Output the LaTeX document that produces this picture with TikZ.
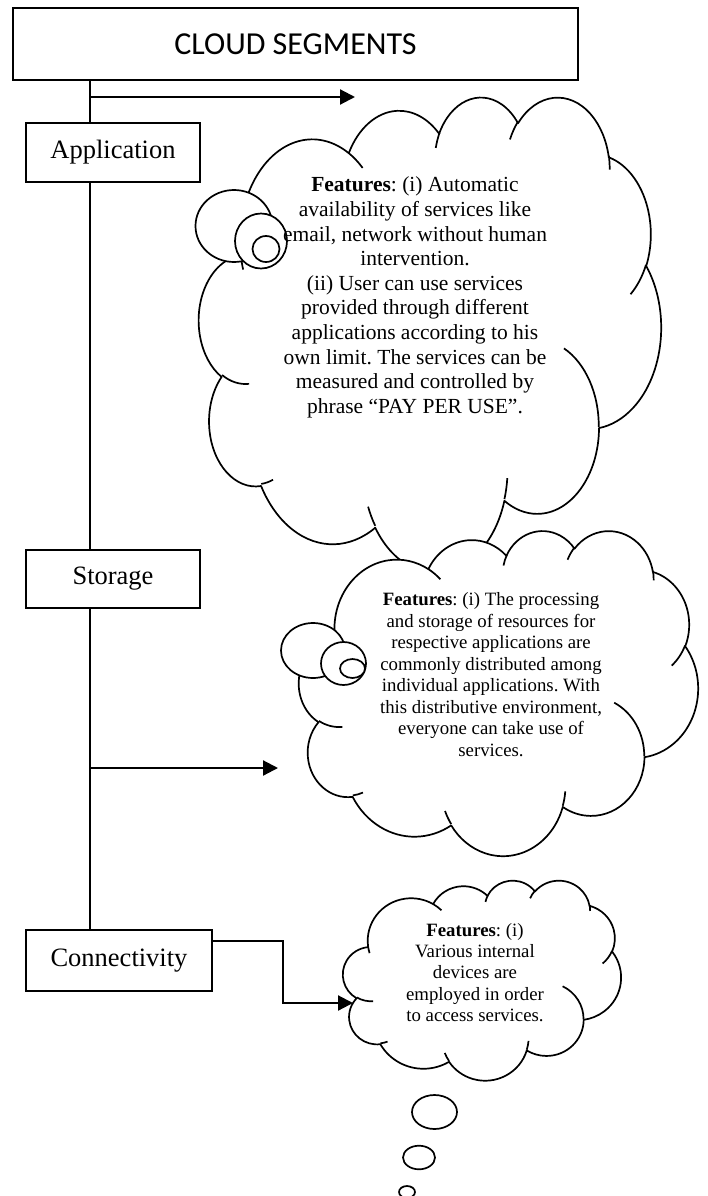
\documentclass[tikz,border=0pt]{standalone}
\usepackage{fontspec}
\setmainfont{Liberation Serif}
\newfontfamily\titlefont{Carlito}
\usetikzlibrary{arrows.meta}
\frenchspacing

% one puff of a callout cloud, radii and angles taken in a 432 x 432 frame
\newcommand{\cloudlobe}[4]{arc[x radius=#1, y radius=#2,
    start angle={atan2((#1)*sin(#3),(#2)*cos(#3))},
    delta angle={mod(atan2((#1)*sin((#3)+(#4)),(#2)*cos((#3)+(#4)))-atan2((#1)*sin(#3),(#2)*cos(#3))+720,360)}]}

% whole cloud outline fitted into the frame x0, y0, width, height
\newcommand{\calloutcloud}[4]{%
    \begin{scope}[shift={(#1,#2)}, xscale=#3/432, yscale=#4/432]
        \draw[cloud_line, fill=white] (39,143.7)
            \cloudlobe{67.53}{91.90}{-190.49}{123.78}
            \cloudlobe{53.33}{72.67}{-144.10}{89.95}
            \cloudlobe{43.65}{59.45}{-145.81}{99.72}
            \cloudlobe{48.57}{65.95}{-130.99}{117.24}
            \cloudlobe{53.33}{72.73}{-78.71}{109.03}
            \cloudlobe{67.75}{92.20}{-46.27}{130.27}
            \cloudlobe{57.85}{78.67}{0.625}{114.03}
            \cloudlobe{67.52}{92.15}{22.45}{115.17}
            \cloudlobe{77.20}{105.43}{66.24}{75.71}
            \cloudlobe{43.60}{59.18}{-274.94}{146.74}
            \cloudlobe{43.45}{59.45}{-246.83}{152.52} -- cycle;
        \draw[cloud_line]
            (46.93,261.77) \cloudlobe{43.45}{59.45}{86.74}{26.43}
            (69.28,348.99) \cloudlobe{43.60}{59.18}{73.61}{11.45}
            (164.78,390.90) \cloudlobe{67.52}{92.15}{137.62}{14.08}
            (288.27,347.51) \cloudlobe{67.52}{92.15}{6.45}{16.00}
            (341.29,229.54) \cloudlobe{57.85}{78.67}{-70.29}{70.92}
            (417.98,153.54) \cloudlobe{53.33}{72.73}{30.32}{27.75}
            (383.24,54.26) \cloudlobe{48.57}{65.95}{-13.74}{14.86}
            (290.78,39.52) \cloudlobe{48.57}{65.95}{-149.18}{18.20}
            (221.41,47.20) \cloudlobe{43.65}{59.45}{-163.49}{17.69}
            (140.00,51.92) \cloudlobe{67.53}{91.90}{-66.71}{12.32}
            (41.27,157.89) \cloudlobe{67.53}{91.90}{157.65}{11.86};
    \end{scope}}

\begin{document}
\begin{tikzpicture}[
        x=1pt, y=-1pt,
        cloud_line/.style={line width=1.7pt, line join=round},
        bubble/.style={draw, line width=1.7pt, fill=white},
        segment_box/.style={
            rectangle,
            draw,
            fill=white,
            line width=1.5pt,
            inner sep=0pt,
            outer sep=0pt,
            anchor=north west,
            font=\fontsize{26.5}{30}\selectfont
        },
        feature_text/.style={align=center, inner sep=0pt},
        spine_line/.style={line width=1.6pt},
        branch_arrow/.style={line width=2.2pt, -{Triangle[length=15pt, width=15pt]}}
    ]
    \useasboundingbox (0,0) rectangle (708,1196);

    % Application cloud
    \calloutcloud{199}{96}{462}{475}
    \draw[bubble] (234,226) ellipse [x radius=38.5, y radius=36];
    \draw[bubble] (261,241) ellipse [x radius=26, y radius=27.5];
    \draw[bubble] (266,249) ellipse [x radius=13.5, y radius=13];
    \node[feature_text, font=\fontsize{21.5}{24.6}\selectfont] (app_feat) at (415,297.5)
        {\textbf{Features}: (i) Automatic\\ availability of services like\\ email, network without human\\ intervention.\\ (ii) User can use services\\ provided through different\\ applications according to his\\ own limit. The services can be\\ measured and controlled by\\ phrase “PAY PER USE”.};

    % Storage cloud
    \calloutcloud{299}{530}{399}{325}
    \draw[bubble] (313,650.5) ellipse [x radius=32, y radius=27.5];
    \draw[bubble] (343.5,663.5) ellipse [x radius=22.5, y radius=21.5];
    \draw[bubble] (352.5,668.5) ellipse [x radius=12.5, y radius=9.5];
    \node[feature_text, font=\fontsize{18.8}{21.5}\selectfont] (sto_feat) at (491,674.5)
        {\textbf{Features}: (i) The processing\\ and storage of resources for\\ respective applications are\\ commonly distributed among\\ individual applications. With\\ this distributive environment,\\ everyone can take use of\\ services.};

    % Connectivity cloud
    \calloutcloud{343}{880}{278}{200}
    \draw[bubble] (434.5,1112) ellipse [x radius=22.5, y radius=17];
    \draw[bubble] (419,1157.5) ellipse [x radius=16, y radius=11.8];
    \draw[bubble] (407,1192) ellipse [x radius=8, y radius=6];
    \node[feature_text, font=\fontsize{18.8}{21.3}\selectfont] (con_feat) at (475,972.5)
        {\textbf{Features}: (i)\\ Various internal\\ devices are\\ employed in order\\ to access services.};

    % Segments
    \node[segment_box, minimum width=565pt, minimum height=72pt, font=\titlefont\fontsize{32}{36}\selectfont] (title) at (13,8) {CLOUD SEGMENTS};
    \node[segment_box, minimum width=174pt, minimum height=59pt] (app) at (26,123) {Application};
    \node[segment_box, minimum width=174pt, minimum height=58pt] (sto) at (26,550) {Storage};
    \node[segment_box, minimum width=186pt, minimum height=61pt] (con) at (26,930) {Connectivity};

    % Spine
    \coordinate (spine) at (90,0);
    \draw[spine_line] (title.south -| spine) -- (app.north -| spine);
    \draw[spine_line] (app.south -| spine) -- (sto.north -| spine);
    \draw[spine_line] (sto.south -| spine) -- (con.north -| spine);

    % Branches
    \coordinate (app_tip) at (355,97);
    \draw[branch_arrow] (app_tip -| spine) -- (app_tip);
    \coordinate (sto_tip) at (278,768);
    \draw[branch_arrow] (sto_tip -| spine) -- (sto_tip);
    \coordinate (con_bend) at (283,1003);
    \coordinate (con_tip) at (353,1003);
    \draw[branch_arrow] ([yshift=-11pt]con.north east) -| (con_bend) -- (con_tip);

\end{tikzpicture}
\end{document}
